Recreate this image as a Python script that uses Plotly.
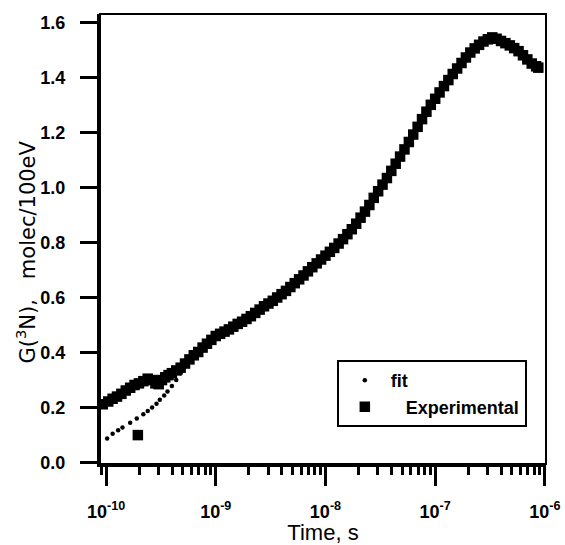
import plotly.graph_objects as go

# Experimental data: log10(time/s) and G(3N)
exp_logt = [-10.03, -9.98, -9.94, -9.90, -9.86, -9.82, -9.78, -9.74, -9.71, -9.70,
            -9.66, -9.62, -9.58, -9.55, -9.52, -9.49, -9.46, -9.43, -9.40, -9.36,
            -9.32, -9.28, -9.24, -9.20, -9.16, -9.12, -9.08, -9.04, -9.00, -8.96,
            -8.92, -8.88, -8.84, -8.80, -8.76, -8.72, -8.68, -8.64, -8.60, -8.56,
            -8.52, -8.48, -8.44, -8.40, -8.36, -8.32, -8.28, -8.24, -8.20, -8.16,
            -8.12, -8.08, -8.04, -8.00, -7.96, -7.92, -7.88, -7.84, -7.80, -7.76,
            -7.72, -7.68, -7.64, -7.60, -7.56, -7.52, -7.48, -7.44, -7.40, -7.36,
            -7.32, -7.28, -7.24, -7.20, -7.16, -7.12, -7.08, -7.04, -7.00, -6.96,
            -6.92, -6.88, -6.84, -6.80, -6.76, -6.72, -6.68, -6.64, -6.60, -6.56,
            -6.52, -6.48, -6.44, -6.40, -6.36, -6.32, -6.28, -6.24, -6.20, -6.16,
            -6.12, -6.08, -6.06]
exp_g = [0.212, 0.222, 0.232, 0.240, 0.250, 0.262, 0.272, 0.282, 0.100, 0.288,
         0.296, 0.305, 0.300, 0.288, 0.285, 0.300, 0.310, 0.318, 0.325, 0.335,
         0.345, 0.360, 0.375, 0.390, 0.402, 0.418, 0.432, 0.446, 0.460, 0.468,
         0.476, 0.484, 0.494, 0.504, 0.512, 0.522, 0.532, 0.544, 0.556, 0.568,
         0.578, 0.588, 0.600, 0.612, 0.624, 0.638, 0.652, 0.666, 0.680, 0.695,
         0.710, 0.724, 0.738, 0.752, 0.766, 0.780, 0.796, 0.812, 0.830, 0.848,
         0.868, 0.890, 0.912, 0.936, 0.962, 0.986, 1.010, 1.034, 1.060, 1.086,
         1.112, 1.138, 1.165, 1.192, 1.220, 1.248, 1.275, 1.300, 1.322, 1.345,
         1.368, 1.390, 1.412, 1.432, 1.452, 1.472, 1.490, 1.505, 1.518, 1.530,
         1.538, 1.545, 1.540, 1.532, 1.524, 1.516, 1.506, 1.495, 1.480, 1.465,
         1.450, 1.440, 1.435]

# Fit data
fit_logt = [-9.99, -9.94, -9.89, -9.85, -9.78, -9.72, -9.66, -9.62, -9.58, -9.54,
            -9.51, -9.47, -9.44, -9.40, -9.36, -9.32, -9.28, -9.20, -9.10, -9.00,
            -8.80, -8.60, -8.40, -8.20, -8.00, -7.80, -7.60, -7.40, -7.20, -7.00,
            -6.80, -6.60, -6.40, -6.20, -6.06]
fit_g = [0.088, 0.105, 0.118, 0.128, 0.145, 0.160, 0.176, 0.188, 0.200, 0.214,
         0.228, 0.244, 0.258, 0.278, 0.300, 0.325, 0.350, 0.390, 0.424, 0.460,
         0.504, 0.556, 0.612, 0.680, 0.752, 0.830, 0.936, 1.060, 1.192, 1.322,
         1.432, 1.518, 1.532, 1.480, 1.435]

x_tick_exp = [-10, -9, -8, -7, -6]
y_tick_vals = [0.0, 0.2, 0.4, 0.6, 0.8, 1.0, 1.2, 1.4, 1.6]

exp_t = [10 ** v for v in exp_logt]
fit_t = [10 ** v for v in fit_logt]

FONT = "Liberation Sans"
NB = "\u00a0"

fig = go.Figure()
fig.add_trace(go.Scatter(
    x=fit_t, y=fit_g, mode="markers", name="fit",
    marker=dict(symbol="circle", size=4.5, color="black"),
))
fig.add_trace(go.Scatter(
    x=exp_t, y=exp_g, mode="markers", name=NB * 3 + "Experimental",
    marker=dict(symbol="square", size=10.5, color="black"),
))

minor_vals = [m * 10 ** e for e in range(-11, -6) for m in range(2, 10)]

fig.update_layout(
    width=565, height=545,
    margin=dict(l=100, r=19, t=14, b=81),
    paper_bgcolor="white", plot_bgcolor="white",
    font=dict(family=FONT, color="black"),
    showlegend=True,
    legend=dict(
        x=0.531, y=0.231, xanchor="left", yanchor="top",
        bordercolor="black", borderwidth=2, bgcolor="white",
        font=dict(family=FONT, size=18, color="black", weight="bold"),
        itemwidth=42, tracegroupgap=0, itemsizing="trace",
    ),
    xaxis=dict(
        type="log", range=[-10.055, -5.99], automargin=False,
        tickvals=[10 ** e for e in x_tick_exp],
        ticktext=["10<sup>%d</sup>" % e for e in x_tick_exp],
        ticks="outside", ticklen=19, tickwidth=3, tickcolor="black",
        ticklabelstandoff=10,
        showline=True, linewidth=3, linecolor="black",
        showgrid=False, zeroline=False,
        tickfont=dict(family=FONT, size=18, color="black", weight="bold"),
        title=dict(text="Time, s", font=dict(family=FONT, size=22, color="black"), standoff=6),
        minor=dict(tickvals=minor_vals, ticks="outside", ticklen=8, tickwidth=3,
                   tickcolor="black", showgrid=False),
    ),
    yaxis=dict(
        range=[-0.005, 1.63], automargin=False,
        tickvals=y_tick_vals,
        ticktext=["%.1f" % v + NB for v in y_tick_vals],
        ticks="outside", ticklen=17, tickwidth=3, tickcolor="black",
        ticklabelstandoff=6,
        showline=True, linewidth=3, linecolor="black",
        showgrid=False, zeroline=False,
        tickfont=dict(family=FONT, size=18, color="black", weight="bold"),
        title=dict(text="G(<sup>3</sup>N)," + NB * 3 + "molec/100eV" + NB * 4 + "\u200b",
                   font=dict(family="DejaVu Sans", size=21, color="black"), standoff=0),
    ),
    shapes=[dict(type="rect", xref="paper", yref="paper", x0=0, y0=0, x1=1, y1=1,
                 line=dict(color="black", width=2), layer="above")],
)

fig.write_html("out.html")
